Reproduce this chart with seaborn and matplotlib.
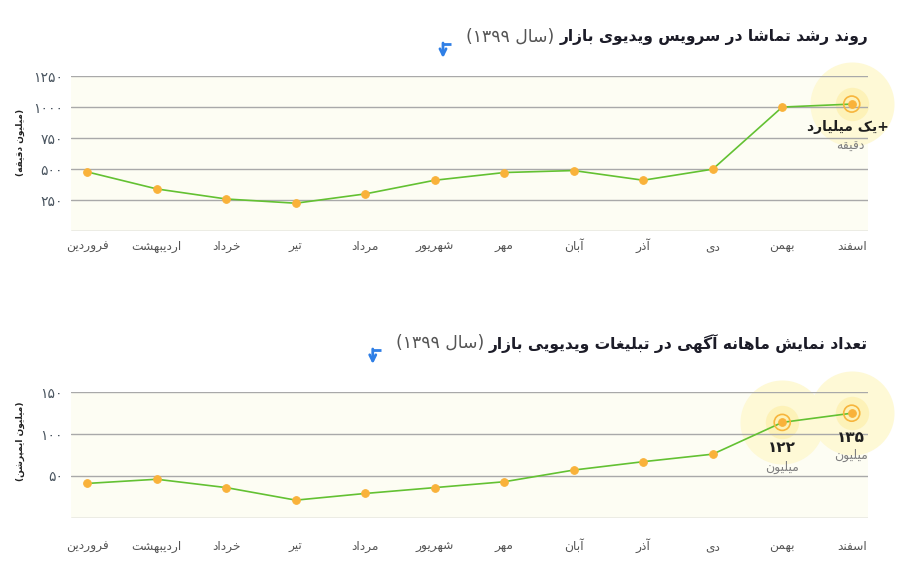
import matplotlib
matplotlib.use("Agg")
import matplotlib.pyplot as plt
from matplotlib.lines import Line2D
import seaborn as sns
import pandas as pd

MONTHS = ["فروردین", "اردیبهشت", "خرداد", "تیر", "مرداد", "شهریور",
          "مهر", "آبان", "آذر", "دی", "بهمن", "اسفند"]
WATCH_MINUTES = [478, 341, 260, 226, 301, 411, 473, 489, 411, 500, 1000, 1024]
AD_IMPRESSIONS = [41, 46, 36, 21, 29, 36, 43, 57, 67, 76, 114, 125]
WATCH_TICKS = [0, 250, 500, 750, 1000, 1250]
IMP_TICKS = [0, 50, 100, 150]

TITLE_1 = "روند رشد تماشا در سرویس ویدیوی بازار"
TITLE_2 = "تعداد نمایش ماهانه آگهی در تبلیغات ویدیویی بازار"
YEAR = "(سال ۱۳۹۹)"
YLABEL_1 = "(میلیون دقیقه)"
YLABEL_2 = "(میلیون ایمپرشن)"
NOTE_1 = ("+یک میلیارد", "دقیقه")
NOTE_2 = [(10, "۱۲۲", "میلیون"), (11, "۱۳۵", "میلیون")]

GREEN = "#63c132"
ORANGE = "#f9b23a"
RING = "#f7b53c"
GLOW_BIG = "#fef9d6"
GLOW_SMALL = "#fdf2b8"
BLUE = "#2f7fe6"
W, H = 913, 582

# --- minimal persian shaping (matplotlib has no complex text layout) ---
DUAL = {"ب": 0xFE8F, "پ": 0xFB56, "ت": 0xFE95, "ث": 0xFE99, "ج": 0xFE9D,
        "چ": 0xFB7A, "ح": 0xFEA1, "خ": 0xFEA5, "س": 0xFEB1, "ش": 0xFEB5,
        "ص": 0xFEB9, "ض": 0xFEBD, "ط": 0xFEC1, "ظ": 0xFEC5, "ع": 0xFEC9,
        "غ": 0xFECD, "ف": 0xFED1, "ق": 0xFED5, "ک": 0xFB8E, "گ": 0xFB92,
        "ل": 0xFEDD, "م": 0xFEE1, "ن": 0xFEE5, "ه": 0xFEE9}
RIGHT = {"ا": 0xFE8D, "آ": 0xFE81, "د": 0xFEA9, "ذ": 0xFEAB, "ر": 0xFEAD,
         "ز": 0xFEAF, "ژ": 0xFB8A, "و": 0xFEED}
FORMS = {k: (v, v + 1, v + 2, v + 3) for k, v in DUAL.items()}
FORMS["ی"] = (0xFBFC, 0xFBFD, 0xFEF3, 0xFEF4)
FORMS.update({k: (v, v + 1) for k, v in RIGHT.items()})
MIRROR = {"(": ")", ")": "("}
FA_DIGITS = str.maketrans("0123456789", "۰۱۲۳۴۵۶۷۸۹")


def fa(text):
    text = text.replace("ي", "ی").replace("ك", "ک")
    shaped = []
    for i, ch in enumerate(text):
        if ch not in FORMS:
            shaped.append(ch)
            continue
        prev = text[i - 1] if i > 0 else ""
        nxt = text[i + 1] if i < len(text) - 1 else ""
        f = FORMS[ch]
        jp = prev in FORMS and len(FORMS[prev]) == 4
        jn = len(f) == 4 and nxt in FORMS
        if jp and jn:
            c = f[3]
        elif jp:
            c = f[1]
        elif jn:
            c = f[2]
        else:
            c = f[0]
        shaped.append(chr(c))
    out, run = [], []
    for ch in shaped:
        if ch.isdigit():
            run.append(ch)
        else:
            if run:
                out.append("".join(run))
                run = []
            out.append(MIRROR.get(ch, ch))
    if run:
        out.append("".join(run))
    return "".join(reversed(out))


def px(x, y):
    return x / W, 1 - y / H


sns.set_theme(style="white")
plt.rcParams["font.family"] = ["DejaVu Sans"]

fig = plt.figure(figsize=(W / 100, H / 100), dpi=100)
ax1 = fig.add_axes([70.5 / W, 1 - 231.3 / H, 797.2 / W, 155.3 / H])
ax2 = fig.add_axes([70.5 / W, 1 - 517.7 / H, 797.2 / W, 125.4 / H])


def draw_panel(ax, values, ticks, xpad):
    df = pd.DataFrame({"pos": range(len(MONTHS)), "value": values})
    ax.set_facecolor("#fdfdf3")
    sns.lineplot(data=df, x="pos", y="value", ax=ax, color=GREEN, lw=1.2,
                 marker="o", markersize=5.5, markerfacecolor=ORANGE,
                 markeredgecolor=ORANGE, zorder=3)
    ax.set_xlim(-0.242, 11.23)
    ax.set_ylim(ticks[0], ticks[-1])
    ax.set_xticks(range(len(MONTHS)))
    ax.set_xticklabels([fa(m) for m in MONTHS])
    for lab in ax.get_xticklabels():
        lab.set_verticalalignment("baseline")
    ax.set_yticks(ticks)
    ax.set_yticklabels([""] + [str(t).translate(FA_DIGITS) for t in ticks[1:]])
    ax.tick_params(axis="x", length=0, pad=xpad, labelsize=8.8, labelcolor="#555555")
    ax.tick_params(axis="y", length=0, pad=5.5, labelsize=10, labelcolor="#4a5560")
    ax.yaxis.grid(True, color="#a9a9a9", lw=1.0)
    ax.xaxis.grid(False)
    ax.set_axisbelow(True)
    ax.set_xlabel("")
    ax.set_ylabel("")
    sns.despine(ax=ax, left=True, bottom=True)


def highlight(ax, i, v):
    ax.scatter([i], [v], s=3660, color=GLOW_BIG, lw=0, zorder=0.2, clip_on=False)
    ax.scatter([i], [v], s=577, color=GLOW_SMALL, lw=0, zorder=0.3, clip_on=False)
    ax.scatter([i], [v], s=133, facecolor="none", edgecolor=RING, lw=1.2, zorder=4, clip_on=False)


draw_panel(ax1, WATCH_MINUTES, WATCH_TICKS, 13.5)
draw_panel(ax2, AD_IMPRESSIONS, IMP_TICKS, 23.5)

highlight(ax1, 11, WATCH_MINUTES[11])
for i, num, unit in NOTE_2:
    highlight(ax2, i, AD_IMPRESSIONS[i])

# annotations
fig.text(*px(848, 127), fa(NOTE_1[0]), ha="center", va="center", fontsize=10,
         fontweight="bold", color="#1f1f1f")
fig.text(*px(850, 146), fa(NOTE_1[1]), ha="center", va="center", fontsize=9,
         color="#808080")
note_pos = {10: (781.7, 448, 467), 11: (851, 437.5, 455)}
for i, num, unit in NOTE_2:
    x, y1, y2 = note_pos[i]
    fig.text(*px(x, y1), num, ha="center", va="center", fontsize=11,
             fontweight="bold", color="#1f1f1f")
    fig.text(*px(x, y2), fa(unit), ha="center", va="center", fontsize=9,
             color="#808080")

# y labels
fig.text(*px(20, 142), fa(YLABEL_1), rotation=90, ha="center", va="center",
         fontsize=6.5, fontweight="bold", color="#222222")
fig.text(*px(20, 441), fa(YLABEL_2), rotation=90, ha="center", va="center",
         fontsize=6.5, fontweight="bold", color="#222222")

# titles
fig.canvas.draw()
renderer = fig.canvas.get_renderer()
for title, ty in [(TITLE_1, 37), (TITLE_2, 343)]:
    t = fig.text(*px(868, ty), fa(title), ha="right", va="center", fontsize=11.2,
                 fontweight="bold", color="#1c1c28")
    bb = t.get_window_extent(renderer)
    t2 = fig.text(bb.x0 - 5, (H - ty), fa(YEAR), ha="right", va="center",
                  fontsize=12.4, color="#555555", transform=None)
    bb2 = t2.get_window_extent(renderer)
    ax_ = bb2.x0 - 23
    y0 = H - ty - 7
    fig.add_artist(Line2D([ax_ - 0.9, ax_ + 8], [y0, y0], color=BLUE, lw=2.0,
                          transform=None, solid_capstyle="butt"))
    ax1.annotate("", xy=(ax_, y0 - 14), xytext=(ax_, y0 + 1), xycoords="figure pixels",
                 textcoords="figure pixels",
                 arrowprops=dict(arrowstyle="->", color=BLUE, lw=2.0,
                                 shrinkA=0, shrinkB=0, mutation_scale=11))

fig.savefig("out.png", dpi=100)
